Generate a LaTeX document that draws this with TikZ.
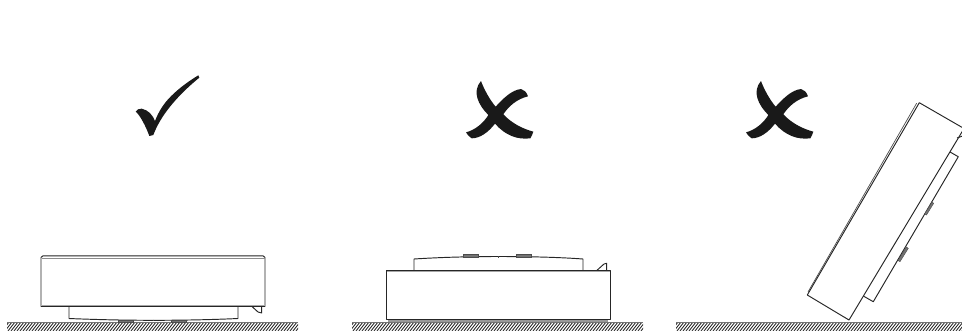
\documentclass[tikz,border=0pt]{standalone}
\tikzset{
  dev/.style={draw=black!85,line width=0.95pt,line join=round,fill=white},
  thinedge/.style={draw=black!70,line width=0.7pt},
  foot/.style={draw=black!70,fill=black!55,line width=0.4pt},
  ink/.style={fill=black!90,draw=none},
  groundline/.style={draw=black!55,line width=1.3pt},
  hatchline/.style={draw=black!85,line width=0.85pt},
  zoomed/.style={x=0.3333pt,y=-0.3333pt}
}
\newcommand{\crossmark}[2]{%
  \begin{scope}[shift={(#1,#2)},zoomed]
    \fill[ink] (78,18) .. controls (88,45) and (105,75) .. (122,95)
      .. controls (145,70) and (170,45) .. (198,42)
      .. controls (208,44) and (215,52) .. (219,64)
      .. controls (185,72) and (160,95) .. (145,118)
      .. controls (170,145) and (205,162) .. (235,170)
      .. controls (232,178) and (230,185) .. (226,190)
      .. controls (185,195) and (150,180) .. (120,146)
      .. controls (100,172) and (75,190) .. (50,190)
      .. controls (42,185) and (36,178) .. (33,172)
      .. controls (60,165) and (85,145) .. (100,120)
      .. controls (70,90) and (50,50) .. (78,18) -- cycle;
  \end{scope}}
\newcommand{\groundbar}[2]{%
  \begin{scope}
    \clip (#1,322.5) rectangle (#2,330);
    \foreach \i in {0,3,...,310}{\draw[hatchline] (#1+\i-8,331) -- (#1+\i-1,322);}
  \end{scope}
  \draw[groundline] (#1,322.5) -- (#2,322.5);
}
\begin{document}
\begin{tikzpicture}[x=1pt,y=-1pt]
\useasboundingbox (0,0) rectangle (962,330);
% check mark
\begin{scope}[shift={(120,65)},zoomed]
\fill[ink] (235,31) .. controls (195,55) and (150,90) .. (127,125)
  .. controls (117,140) and (110,155) .. (105,168)
  .. controls (98,150) and (85,135) .. (65,131)
  .. controls (58,130) and (50,134) .. (47,140)
  .. controls (60,150) and (78,185) .. (88,213)
  -- (100,210) .. controls (115,170) and (150,110) .. (238,38) -- cycle;
\end{scope}
% crosses
\crossmark{455}{75}
\crossmark{735}{75}
% ground
\groundbar{7}{298}
\groundbar{352}{643}
\groundbar{676}{962}
% device 1
\draw[dev] (69,306.5) -- (69,318.5) .. controls (100,319.8) and (130,320.3) .. (153.5,320.3)
  .. controls (180,320.3) and (210,319.8) .. (238,318.5) -- (238,306.5);
\fill[foot] (118,319.8) rectangle (133,322);
\fill[foot] (171,319.8) rectangle (186,322);
\draw[thinedge] (153.5,319.5) -- (153.5,321);
\draw[dev] (252,306.5) -- (258,312) -- (261.7,313) -- (261.7,306.5);
\draw[dev] (43,255.8) -- (263,255.8) -- (265,257.5) -- (265,306.5) -- (41,306.5) -- (41,257.5) -- cycle;
\draw[draw=black!45,line width=1pt] (41.5,258.6) -- (264.5,258.6);
\draw[draw=black!35,line width=.8pt] (41.5,305.3) -- (264.5,305.3);
% device 2
\draw[dev] (414,270.3) -- (414,259) .. controls (440,257.3) and (470,256.5) .. (498.5,256.5)
  .. controls (530,256.5) and (560,257.3) .. (583,259) -- (583,270.3);
\fill[foot] (463,254.5) rectangle (478,256.8);
\fill[foot] (516,254.5) rectangle (531,256.8);
\draw[thinedge] (498.5,256) -- (498.5,257.5);
\draw[dev] (597,270.3) -- (604,264) -- (606.7,263.3) -- (606.7,270.3);
\draw[dev] (386,270.3) rectangle (610,319.5);
\draw[draw=black!35,line width=.8pt] (386.5,271.4) -- (609.5,271.4);
\fill[black!40] (388,319.6) rectangle (608,322);
% device 3
\begin{scope}
\clip (676,0) rectangle (962,330);
\draw[dev] (863.3,296) -- (873.3,301.7) -- (958.3,156.7) -- (948.3,151);
\fill[foot] (926.5,215) -- (933.7,203.3) -- (932,202) -- (924.5,214) -- cycle;
\fill[foot] (900,261.7) -- (908.3,248.3) -- (906.3,247) -- (898,260.5) -- cycle;
\draw[dev] (919.3,102.7) -- (964,128.5) -- (849,320) -- (807.3,295) -- cycle;
\draw[thinedge] (916.6,103.3) -- (808,292);
\draw[dev,fill=none] (957,138) -- (964,135.5);
\end{scope}
\end{tikzpicture}
\end{document}
